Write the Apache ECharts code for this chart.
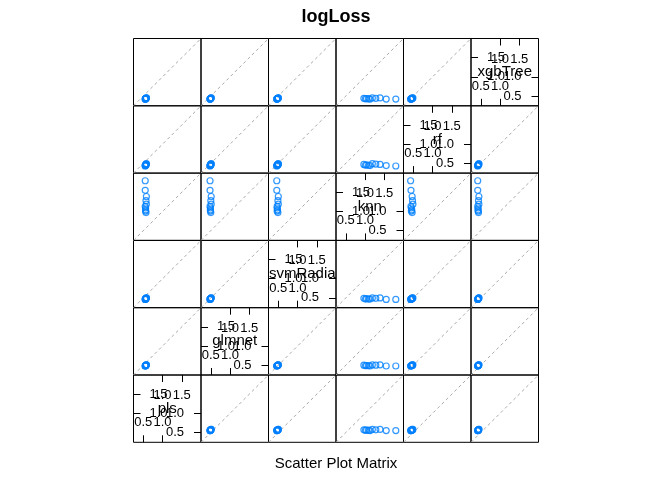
<!DOCTYPE html>
<html><head><meta charset="utf-8">
<script src="https://cdn.jsdelivr.net/npm/echarts@6/dist/echarts.min.js"></script>
<style>html,body{margin:0;padding:0;background:#fff}#c{width:672px;height:480px}</style>
</head><body><div id="c"></div>
<script>
// ---- data ----
const models = ['pls', 'glmnet', 'svmRadial', 'knn', 'rf', 'xgbTree'];
const pls       = [0.56, 0.57, 0.55, 0.58, 0.56, 0.55, 0.57, 0.56, 0.58, 0.55];
const glmnet    = [0.49, 0.50, 0.48, 0.51, 0.49, 0.48, 0.50, 0.49, 0.51, 0.48];
const svmRadial = [0.47, 0.49, 0.46, 0.50, 0.48, 0.46, 0.49, 0.47, 0.50, 0.47];
const knn       = [1.09, 0.97, 1.55, 1.19, 1.04, 1.80, 1.28, 1.01, 1.39, 1.13];
const rf        = [0.45, 0.47, 0.44, 0.49, 0.46, 0.43, 0.48, 0.45, 0.47, 0.44];
const xgbTree   = [0.43, 0.44, 0.42, 0.45, 0.43, 0.42, 0.44, 0.43, 0.45, 0.42];
const tickValues = [0.5, 1.0, 1.5];
const axisMin = 0.245, axisMax = 2.0;
const chartTitle = 'logLoss';
const xLabel = 'Scatter Plot Matrix';

const values = { pls, glmnet, svmRadial, knn, rf, xgbTree };

// ---- layout ----
const L = 133.5, T = 38.5, W = 67.5, H = 67.3, N = models.length;
const FONT = '"Liberation Sans", Arial, sans-serif';
const grids = [], xAxes = [], yAxes = [], series = [], graphic = [];

function fmt(v) { return v.toFixed(1); }

for (let r = 0; r < N; r++) {
  for (let c = 0; c < N; c++) {
    const yVar = models[N - 1 - r];
    const xVar = models[c];
    const gi = grids.length;
    const left = L + c * W, top = T + r * H;
    grids.push({ left, top, width: W, height: H, show: true, borderColor: '#000', borderWidth: 1, backgroundColor: 'transparent' });
    if (xVar === yVar) {
      const mk = (pos, ticks, margin, padding) => ({
        gridIndex: gi, type: 'value', min: axisMin, max: axisMax, position: pos,
        axisLine: { show: false }, splitLine: { show: false },
        axisTick: { show: true, inside: true, length: 7, customValues: ticks, lineStyle: { color: '#000', width: 1 } },
        axisLabel: { show: true, inside: true, customValues: ticks, formatter: fmt, margin, padding,
          fontSize: 13, color: '#000', fontFamily: FONT }
      });
      xAxes.push(mk('bottom', [tickValues[0], tickValues[1]], 13, 0));
      xAxes.push(mk('top', [tickValues[1], tickValues[2]], 14, 0));
      yAxes.push(mk('left', [tickValues[1], tickValues[2]], 16, [6, 0, 0, 0]));
      yAxes.push(mk('right', [tickValues[0], tickValues[1]], 17, [4, 0, 0, 0]));
      graphic.push({
        type: 'text', x: left + W / 2, y: top + H / 2, z: 100,
        style: { text: xVar, fontSize: 15, fontFamily: FONT, fill: '#000', align: 'center', verticalAlign: 'middle',
          width: W + 2, overflow: 'truncate', ellipsis: '' }
      });
      continue;
    }
    const xi = xAxes.length, yi = yAxes.length;
    xAxes.push({ gridIndex: gi, type: 'value', min: axisMin, max: axisMax, show: false });
    yAxes.push({ gridIndex: gi, type: 'value', min: axisMin, max: axisMax, show: false });
    series.push({
      type: 'line', xAxisIndex: xi, yAxisIndex: yi, silent: true, symbol: 'none',
      data: [[axisMin, axisMin], [axisMax, axisMax]],
      lineStyle: { color: '#a9a9a9', width: 1, type: [3, 3] }, z: 1
    });
    series.push({
      type: 'scatter', xAxisIndex: xi, yAxisIndex: yi, symbol: 'circle', symbolSize: 6,
      data: values[xVar].map((v, k) => [v, values[yVar][k]]),
      itemStyle: { color: 'transparent', borderColor: '#0080ff', borderWidth: 1.2 }, z: 2
    });
  }
}

const chart = echarts.init(document.getElementById('c'), null, { renderer: 'canvas' });
chart.setOption({
  animation: false,
  backgroundColor: '#fff',
  title: [
    { text: chartTitle, left: 'center', top: 3, textStyle: { fontSize: 18, fontWeight: 'bold', color: '#000', fontFamily: FONT } },
    { text: xLabel, left: 'center', top: 451, textStyle: { fontSize: 15, fontWeight: 'normal', color: '#000', fontFamily: FONT } }
  ],
  grid: grids, xAxis: xAxes, yAxis: yAxes, series, graphic
});
</script></body></html>
